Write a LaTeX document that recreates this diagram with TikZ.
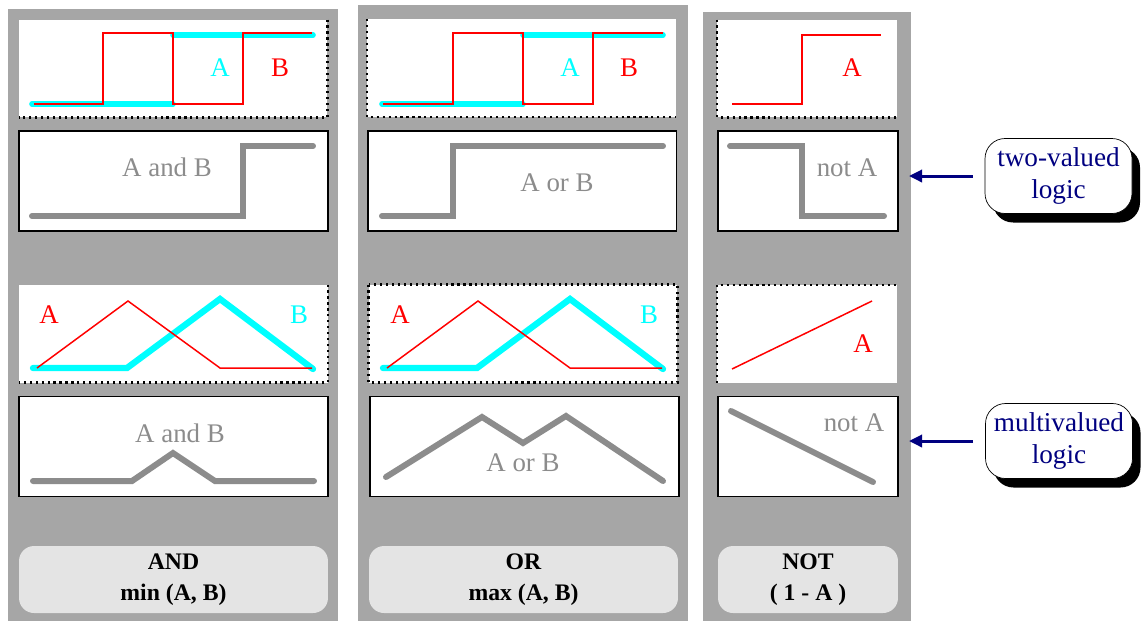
\documentclass[tikz,border=0pt]{standalone}
\usepackage{fontspec}
\setmainfont{Liberation Serif}
\usepackage{xcolor}
\usepackage{tikz}
\usetikzlibrary{arrows.meta, shapes, shadows}

\definecolor{colgray}{RGB}{166,166,166}
\definecolor{wavegray}{RGB}{140,140,140}
\definecolor{capgray}{RGB}{228,228,228}
\definecolor{navy}{RGB}{0,0,128}
\definecolor{aqua}{RGB}{0,255,255}
\definecolor{pured}{RGB}{255,0,0}

\begin{document}
\begin{tikzpicture}[x=0.02cm, y=-0.02cm, >=latex]
		\tikzstyle{column} = [fill=colgray, inner sep=0, outer sep=0, minimum width=6.6cm]
		\tikzstyle{sig} = [fill=white, inner sep=0, outer sep=0, minimum width=6.18cm, minimum height=1.96cm]
		\tikzstyle{res} = [draw=black, line width=1.1pt, fill=white, inner sep=0, outer sep=0, minimum width=6.18cm, minimum height=2cm]
		\tikzstyle{caption} = [fill=capgray, rounded corners=0.3cm, inner sep=0, minimum width=6.18cm, minimum height=1.34cm, align=center, font=\bfseries\fontsize{13.5}{17.5}\selectfont]
		\tikzstyle{callout} = [draw=black, fill=white, rounded corners=0.4cm, minimum width=2.94cm, minimum height=1.5cm, align=center, text=navy, font=\fontsize{15.5}{18}\selectfont, drop shadow={shadow xshift=0.16cm, shadow yshift=-0.18cm, fill=black, opacity=1}]
		\tikzstyle{label} = [inner sep=0, font=\fontsize{15.3}{18}\selectfont]
		\tikzstyle{dots} = [black, line width=1.2pt, dash pattern=on 1.2pt off 2.2pt]
		\tikzstyle{redwave} = [pured, line width=0.85pt]
		\tikzstyle{cyanwave} = [aqua, line width=3.2pt, line cap=round]
		\tikzstyle{graywave} = [wavegray, line width=3.4pt, line cap=round]
		\tikzstyle{arrow} = [navy, line width=1.7pt, -{Triangle[length=7.5pt, width=7pt]}]
		
		\useasboundingbox (0, 0) rectangle (1148, 620);
		
		\node[column, minimum height=12.26cm]	at (173, 315.5)	(col1)	{};
		\node[column, minimum height=12.34cm]	at (523, 313.5)	(col2)	{};
		\node[column, minimum height=12.2cm, minimum width=4.16cm]	at (807, 317)	(col3)	{};
		
		\node[sig]	at (173, 68.5)		(sig1)	{};
		\node[sig]	at (521.5, 68)		(sig2)	{};
		\node[sig, minimum width=3.6cm]	at (807, 68.5)	(sig3)	{};
		
		\node[res]	at (173.5, 181)		(res1)	{};
		\node[res]	at (522, 181)		(res2)	{};
		\node[res, minimum width=3.6cm]	at (808, 181)	(res3)	{};
		
		\node[sig]	at (173.5, 333.5)	(msig1)	{};
		\node[sig]	at (523, 333.5)		(msig2)	{};
		\node[sig, minimum width=3.6cm]	at (807, 334)	(msig3)	{};
		
		\node[res]	at (173.5, 446.5)	(mres1)	{};
		\node[res]	at (524.5, 446.5)	(mres2)	{};
		\node[res, minimum width=3.6cm]	at (808, 446.5)	(mres3)	{};
		
		\node[caption]	at (173.5, 579.5)	(and)	{AND \\ min (A, B)};
		\node[caption]	at (523.5, 579.5)	(or)	{OR \\ max (A, B)};
		\node[caption, minimum width=3.6cm]	at (808, 579.5)	(not)	{NOT \\ ( 1 - A )};
		
		\draw [dots] (sig1.north east) -- (sig1.south east) -- (sig1.south west);
		\draw [dots] (sig2.north west) -- (sig2.south west) -- (sig2.south east);
		\draw [dots] (sig3.north west) -- (sig3.south west) -- (sig3.south east);
		\draw [dots] (msig1.north east) -- (msig1.south east) -- (msig1.south west);
		\draw [dots] (msig2.north west) rectangle (msig2.south east);
		\draw [dots] (msig3.south west) -- (msig3.north west) -- (msig3.north east);
		
		\draw [cyanwave] (32, 104) -- (173, 104);
		\draw [cyanwave] (173, 35) -- (313, 35);
		\draw [aqua, line width=1pt] (173, 104) -- (173, 35);
		\draw [redwave] (34, 104) -- (103, 104) -- (103, 33) -- (173, 33) -- (173, 104) -- (243, 104) -- (243, 33) -- (312, 33);
		\draw [graywave] (32, 216) -- (243, 216) -- (243, 146) -- (313, 146);
		
		\draw [cyanwave] (382, 104) -- (523, 104);
		\draw [cyanwave] (523, 35) -- (663, 35);
		\draw [aqua, line width=1pt] (523, 104) -- (523, 35);
		\draw [redwave] (383, 104) -- (453, 104) -- (453, 33) -- (523, 33) -- (523, 104) -- (593, 104) -- (593, 33) -- (663, 33);
		\draw [graywave] (382, 216) -- (453, 216) -- (453, 146) -- (663, 146);
		
		\draw [redwave] (732, 104) -- (802, 104) -- (802, 35) -- (881, 35);
		\draw [graywave] (730, 146) -- (802, 146) -- (802, 216) -- (884, 216);
		
		\draw [cyanwave, line width=3.6pt] (33, 368) -- (127, 368) -- (220, 299) -- (313, 369);
		\draw [redwave] (37, 368) -- (128, 301) -- (220, 368) -- (312, 368);
		\draw [graywave] (33, 481) -- (132, 481) -- (173, 453) -- (215, 481) -- (314, 481);
		
		\draw [cyanwave, line width=3.6pt] (383, 368) -- (477, 368) -- (570, 299) -- (663, 369);
		\draw [redwave] (387, 368) -- (478, 301) -- (570, 368) -- (662, 368);
		\draw [graywave] (386, 477) -- (482, 417) -- (523, 443) -- (566, 416) -- (663, 481);
		
		\draw [redwave] (732, 369) -- (872, 301);
		\draw [graywave] (731, 411) -- (873, 482);
		
		\node[label, text=aqua]		at (220, 68)	(a1)	{A};
		\node[label, text=pured]	at (280, 68)	(b1)	{B};
		\node[label, text=wavegray]	at (167, 167)	(t1)	{A and B};
		\node[label, text=aqua]		at (570, 68)	(a2)	{A};
		\node[label, text=pured]	at (629, 68)	(b2)	{B};
		\node[label, text=wavegray]	at (557, 183)	(t2)	{A or B};
		\node[label, text=pured]	at (852, 68)	(a3)	{A};
		\node[label, text=wavegray]	at (847, 168)	(t3)	{not A};
		
		\node[label, text=pured]	at (49, 315)	(ma1)	{A};
		\node[label, text=aqua]		at (299, 315)	(mb1)	{B};
		\node[label, text=wavegray]	at (180, 433)	(mt1)	{A and B};
		\node[label, text=pured]	at (400, 315)	(ma2)	{A};
		\node[label, text=aqua]		at (649, 315)	(mb2)	{B};
		\node[label, text=wavegray]	at (523, 463)	(mt2)	{A or B};
		\node[label, text=pured]	at (863, 344)	(ma3)	{A};
		\node[label, text=wavegray]	at (854, 423)	(mt3)	{not A};
		
		\node[callout]	at (1058.5, 176)	(twoval)	{two-valued \\ logic};
		\node[callout]	at (1059, 441)		(multival)	{multivalued \\ logic};
		
		\draw [arrow, shorten <=0.24cm, shorten >=-0.04cm] (twoval.west) -- (twoval.west -| col3.east);
		\draw [arrow, shorten <=0.24cm, shorten >=-0.04cm] (multival.west) -- (multival.west -| col3.east);
		
	\end{tikzpicture}
\end{document}
